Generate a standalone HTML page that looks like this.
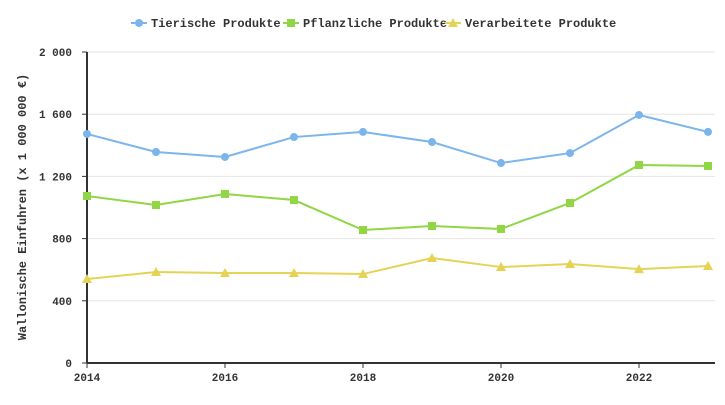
<!DOCTYPE html>
<html><head><meta charset="utf-8"><style>
body{margin:0;background:#fff;}
svg text{font-family:"Liberation Mono",monospace;font-weight:bold;fill:#333;}
</style></head><body>
<svg id="chart" width="725" height="400" xmlns="http://www.w3.org/2000/svg">
<g id="grid"></g><g id="axes"></g><g id="series"></g><g id="legend"></g>
</svg>
<script>
const years=[2014,2015,2016,2017,2018,2019,2020,2021,2022,2023];
const tierische=[1473,1357,1325,1453,1486,1421,1286,1350,1595,1486];
const pflanzliche=[1074,1016,1087,1048,855,881,862,1029,1273,1267];
const verarbeitete=[540,585,579,579,572,675,617,637,604,624];
const yTicks=[0,400,800,1200,1600,2000];
const yTickLabels=["0","400","800","1 200","1 600","2 000"];
const xTicks=[2014,2016,2018,2020,2022];
const NS="http://www.w3.org/2000/svg";
const X0=87,X1=708,Y0=363,Y1=52;
const xs=v=>X0+(v-2014)*(X1-X0)/9;
const ys=v=>Y0-v*(Y0-Y1)/2000;
function mk(tag,attrs,parent){const e=document.createElementNS(NS,tag);for(const k in attrs)e.setAttribute(k,attrs[k]);parent.appendChild(e);return e;}
const grid=document.getElementById('grid'),axes=document.getElementById('axes'),ser=document.getElementById('series'),leg=document.getElementById('legend');
yTicks.forEach((t,i)=>{
  const l=mk('line',{x1:X0,x2:715,y1:ys(t),y2:ys(t),stroke:'#e6e6e6'},grid);
  
  
  const tk=mk('line',{x1:X0-5,x2:X0,y1:ys(t),y2:ys(t),stroke:'#333'},axes);
  
  
  const tx=mk('text',{x:X0-15,y:ys(t)+4,'text-anchor':'end','font-size':11},axes);
  tx.textContent=yTickLabels[i];
  
  
});
xTicks.forEach(t=>{
  const tk=mk('line',{x1:xs(t),x2:xs(t),y1:Y0,y2:Y0+5,stroke:'#333'},axes);
  
  
  const tx=mk('text',{x:xs(t),y:Y0+18,'text-anchor':'middle','font-size':11},axes);
  tx.textContent=t;
  
  
});
const ya=mk('line',{x1:X0,x2:X0,y1:Y1,y2:Y0,stroke:'#333','stroke-width':2},axes);


const xa=mk('line',{x1:X0,x2:715,y1:Y0,y2:Y0,stroke:'#333','stroke-width':2},axes);


const yt=mk('text',{transform:'translate(26,207) rotate(-90)','text-anchor':'middle','font-size':12},axes);
yt.textContent='Wallonische Einfuhren (x 1 000 000 €)';


function marker(shape,x,y,c,p){
  if(shape==='circle')return mk('circle',{cx:x,cy:y,r:4,fill:c},p);
  if(shape==='square')return mk('rect',{x:x-4,y:y-4,width:8,height:8,fill:c},p);
  return mk('path',{d:`M${x},${y-5}L${x+5},${y+4}L${x-5},${y+4}Z`,fill:c},p);
}
const series=[
 {name:'Tierische Produkte',data:tierische,color:'#7cb5ec',shape:'circle',id:'tierische'},
 {name:'Pflanzliche Produkte',data:pflanzliche,color:'#90d645',shape:'square',id:'pflanzliche'},
 {name:'Verarbeitete Produkte',data:verarbeitete,color:'#e4d354',shape:'triangle',id:'verarbeitete'}];
series.forEach(s=>{
  const g=mk('g',{},ser);
  
  
  const pl=mk('polyline',{points:s.data.map((v,i)=>xs(years[i])+','+ys(v)).join(' '),fill:'none',stroke:s.color,'stroke-width':2},g);
  
  
  s.data.forEach((v,i)=>{
    const m=marker(s.shape,xs(years[i]),ys(v),s.color,g);
    
    
  });
});
const legX=[131,283,445];
series.forEach((s,i)=>{
  const g=mk('g',{},leg);
  
  
  mk('line',{x1:legX[i],x2:legX[i]+16,y1:23,y2:23,stroke:s.color,'stroke-width':2},g);
  marker(s.shape,legX[i]+8,23,s.color,g);
  const t=mk('text',{x:legX[i]+20,y:27,'font-size':12},g);
  t.textContent=s.name;
});
</script>
</body></html>
